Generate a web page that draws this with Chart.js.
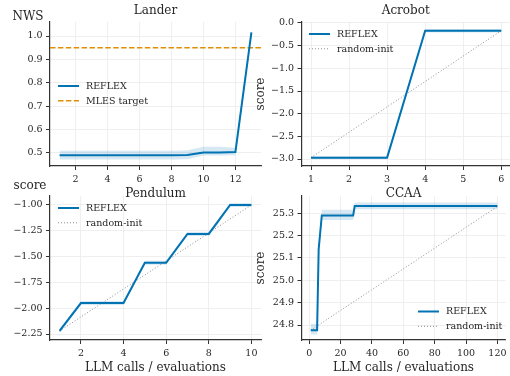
<!DOCTYPE html>
<html>
<head>
<meta charset="utf-8">
<script src="https://cdn.jsdelivr.net/npm/chart.js@4.4.1/dist/chart.umd.min.js"></script>
<style>
  html, body { margin: 0; padding: 0; background: #fff; }
  #wrap { position: relative; width: 510px; height: 376px; overflow: hidden; }
  #wrap canvas { position: absolute; left: 0; top: 0; }
</style>
</head>
<body>
<div id="wrap">
  <canvas id="lander" width="510" height="376"></canvas>
  <canvas id="acrobot" width="510" height="376"></canvas>
  <canvas id="pendulum" width="510" height="376"></canvas>
  <canvas id="ccaa" width="510" height="376"></canvas>
</div>
<script>
// Lander
const landerX = [1, 2, 3, 4, 5, 6, 7, 8, 9, 10, 11, 12, 13];
const landerReflex = [0.490, 0.490, 0.490, 0.490, 0.490, 0.490, 0.490, 0.490, 0.491, 0.502, 0.502, 0.504, 1.016];
const landerLow = [0.472, 0.472, 0.472, 0.472, 0.472, 0.472, 0.472, 0.472, 0.473, 0.489, 0.489, 0.490, 1.000];
const landerHigh = [0.509, 0.509, 0.509, 0.509, 0.509, 0.509, 0.509, 0.509, 0.511, 0.526, 0.526, 0.522, 1.032];
const landerTarget = 0.95;
const landerXTicks = [2, 4, 6, 8, 10, 12];
const landerYTicks = [0.5, 0.6, 0.7, 0.8, 0.9, 1.0];

// Acrobot
const acroX = [1, 2, 3, 4, 5, 6];
const acroReflex = [-2.97, -2.97, -2.97, -0.17, -0.17, -0.17];
const acroLow = [-3.00, -3.00, -3.00, -0.21, -0.21, -0.21];
const acroHigh = [-2.94, -2.94, -2.94, -0.13, -0.13, -0.13];
const acroRandomX = [1, 6];
const acroRandom = [-2.97, -0.17];
const acroXTicks = [1, 2, 3, 4, 5, 6];
const acroYTicks = [0.0, -0.5, -1.0, -1.5, -2.0, -2.5, -3.0];

// Pendulum
const pendX = [1, 2, 3, 4, 5, 6, 7, 8, 9, 10];
const pendReflex = [-2.22, -1.95, -1.95, -1.95, -1.56, -1.56, -1.28, -1.28, -1.00, -1.00];
const pendLow = [-2.24, -1.97, -1.97, -1.97, -1.58, -1.58, -1.30, -1.30, -1.02, -1.02];
const pendHigh = [-2.20, -1.93, -1.93, -1.93, -1.54, -1.54, -1.26, -1.26, -0.98, -0.98];
const pendRandomX = [1, 10];
const pendRandom = [-2.22, -1.00];
const pendXTicks = [2, 4, 6, 8, 10];
const pendYTicks = [-1.00, -1.25, -1.50, -1.75, -2.00, -2.25];

// CCAA
const ccaaX = [1, 5, 6, 8, 28, 29, 120];
const ccaaReflex = [24.777, 24.777, 25.139, 25.290, 25.290, 25.332, 25.332];
const ccaaLow = [24.758, 24.758, 25.120, 25.270, 25.270, 25.318, 25.318];
const ccaaHigh = [24.805, 24.805, 25.160, 25.315, 25.315, 25.348, 25.348];
const ccaaRandomX = [1, 120];
const ccaaRandom = [24.777, 25.330];
const ccaaXTicks = [0, 20, 40, 60, 80, 100, 120];
const ccaaYTicks = [24.8, 24.9, 25.0, 25.1, 25.2, 25.3];

const BLUE = "#0173b2";
const ORANGE = "#de8f05";
const GREY = "#8c8c8c";
const BAND = "rgba(1,115,178,0.16)";
const INK = "#262626";
const YW = 40, XH = 20;

Chart.defaults.font.family = "'DejaVu Serif', serif";
Chart.defaults.color = INK;

const pts = (xs, ys) => xs.map((x, i) => ({ x: x, y: ys[i] }));
const fmt = (v, d) => (v < 0 ? "\u2212" : "") + Math.abs(v).toFixed(d);

// titles, axis labels and the in-axes legend
const panelText = {
  id: "panelText",
  afterDraw(chart, args, o) {
    const ctx = chart.ctx;
    const a = chart.chartArea;
    const cx = (a.left + a.right) / 2;
    ctx.save();
    ctx.fillStyle = INK;
    ctx.textAlign = "center";
    ctx.textBaseline = "middle";
    ctx.font = "12px 'DejaVu Serif'";
    if (o.title) ctx.fillText(o.title, cx, o.titleY);
    if (o.xlabel) ctx.fillText(o.xlabel, cx, o.xlabelY);
    if (o.ylabel) {
      if (o.ylabelRot) {
        ctx.save();
        ctx.translate(o.ylabelX, (a.top + a.bottom) / 2);
        ctx.rotate(-Math.PI / 2);
        ctx.fillText(o.ylabel, 0, 0);
        ctx.restore();
      } else {
        ctx.fillText(o.ylabel, o.ylabelX, o.ylabelY);
      }
    }
    if (o.legend) {
      ctx.font = "9.5px 'DejaVu Serif'";
      ctx.textAlign = "left";
      o.legend.items.forEach((it, i) => {
        const y = o.legend.y + i * 14.8;
        ctx.beginPath();
        ctx.strokeStyle = it.color;
        ctx.lineWidth = it.width;
        ctx.setLineDash(it.dash || []);
        ctx.moveTo(o.legend.x, y);
        ctx.lineTo(o.legend.x + 21, y);
        ctx.stroke();
        ctx.setLineDash([]);
        ctx.fillText(it.label, o.legend.x + 28, y + 0.5);
      });
    }
    ctx.restore();
  }
};

function axis(lim, ticks, dec, fixSize) {
  return {
    type: "linear",
    min: lim[0],
    max: lim[1],
    afterFit: fixSize,
    afterBuildTicks: s => { s.ticks = ticks.map(v => ({ value: v })); },
    ticks: {
      callback: v => fmt(v, dec),
      autoSkip: false,
      maxRotation: 0,
      padding: 3.5,
      color: INK,
      font: { size: 9.5 }
    },
    grid: { color: "#ebebeb", lineWidth: 0.8, tickLength: 4, tickColor: "#333", tickWidth: 1 },
    border: { display: true, color: "#333", width: 1.2 }
  };
}

function makeChart(id, c) {
  const a = c.area;
  return new Chart(document.getElementById(id), {
    type: "line",
    data: { datasets: c.datasets },
    plugins: [panelText],
    options: {
      responsive: false,
      animation: false,
      events: [],
      layout: { padding: { left: a[0] - YW, top: a[1], right: 510 - a[2], bottom: 376 - a[3] - XH } },
      elements: { point: { radius: 0 }, line: { tension: 0 } },
      plugins: { legend: { display: false }, tooltip: { enabled: false }, panelText: c.text },
      scales: {
        x: axis(c.xlim, c.xticks, 0, s => { s.height = XH; }),
        y: axis(c.ylim, c.yticks, c.ydec, s => { s.width = YW; })
      }
    }
  });
}

function reflexSets(xs, mean, lo, hi, other) {
  return [
    { label: "REFLEX", data: pts(xs, mean), borderColor: BLUE, borderWidth: 2, fill: false },
    other,
    { data: pts(xs, hi), borderWidth: 0, borderColor: "rgba(0,0,0,0)", backgroundColor: BAND, fill: 3 },
    { data: pts(xs, lo), borderWidth: 0, borderColor: "rgba(0,0,0,0)", fill: false }
  ];
}

const randomInit = (xs, ys) => ({
  label: "random-init", data: pts(xs, ys), borderColor: GREY, borderWidth: 1, borderDash: [1, 2], fill: false
});
const legendRandom = [
  { label: "REFLEX", color: BLUE, width: 2 },
  { label: "random-init", color: GREY, width: 1, dash: [1, 2] }
];

const landerXlim = [0.4, 13.6];
makeChart("lander", {
  area: [50, 22, 261, 166],
  xlim: landerXlim, ylim: [0.444, 1.06],
  xticks: landerXTicks, yticks: landerYTicks, ydec: 1,
  datasets: reflexSets(landerX, landerReflex, landerLow, landerHigh, {
    label: "MLES target",
    data: pts(landerXlim, [landerTarget, landerTarget]),
    borderColor: ORANGE, borderWidth: 1.5, borderDash: [5.5, 2.4], fill: false
  }),
  text: {
    title: "Lander", titleY: 11,
    ylabel: "NWS", ylabelX: 28, ylabelY: 17,
    legend: { x: 58, y: 86, items: [
      { label: "REFLEX", color: BLUE, width: 2 },
      { label: "MLES target", color: ORANGE, width: 1.5, dash: [5.5, 2.4] }
    ] }
  }
});

makeChart("acrobot", {
  area: [301.5, 22, 510, 166],
  xlim: [0.75, 6.23], ylim: [-3.154, 0.022],
  xticks: acroXTicks, yticks: acroYTicks, ydec: 1,
  datasets: reflexSets(acroX, acroReflex, acroLow, acroHigh, randomInit(acroRandomX, acroRandom)),
  text: {
    title: "Acrobot", titleY: 11,
    ylabel: "score", ylabelRot: true, ylabelX: 261,
    legend: { x: 309, y: 34, items: legendRandom }
  }
});

makeChart("pendulum", {
  area: [50, 196, 261, 340],
  xlim: [0.55, 10.45], ylim: [-2.308, -0.913],
  xticks: pendXTicks, yticks: pendYTicks, ydec: 2,
  datasets: reflexSets(pendX, pendReflex, pendLow, pendHigh, randomInit(pendRandomX, pendRandom)),
  text: {
    title: "Pendulum", titleY: 194,
    xlabel: "LLM calls / evaluations", xlabelY: 367.5,
    ylabel: "score", ylabelX: 30, ylabelY: 186,
    legend: { x: 58, y: 208, items: legendRandom }
  }
});

makeChart("ccaa", {
  area: [301.5, 196, 510, 340],
  xlim: [-4.95, 125.2], ylim: [24.733, 25.377],
  xticks: ccaaXTicks, yticks: ccaaYTicks, ydec: 1,
  datasets: reflexSets(ccaaX, ccaaReflex, ccaaLow, ccaaHigh, randomInit(ccaaRandomX, ccaaRandom)),
  text: {
    title: "CCAA", titleY: 193.5,
    xlabel: "LLM calls / evaluations", xlabelY: 367.5,
    ylabel: "score", ylabelRot: true, ylabelX: 261,
    legend: { x: 418, y: 311.5, items: legendRandom }
  }
});
</script>
</body>
</html>
